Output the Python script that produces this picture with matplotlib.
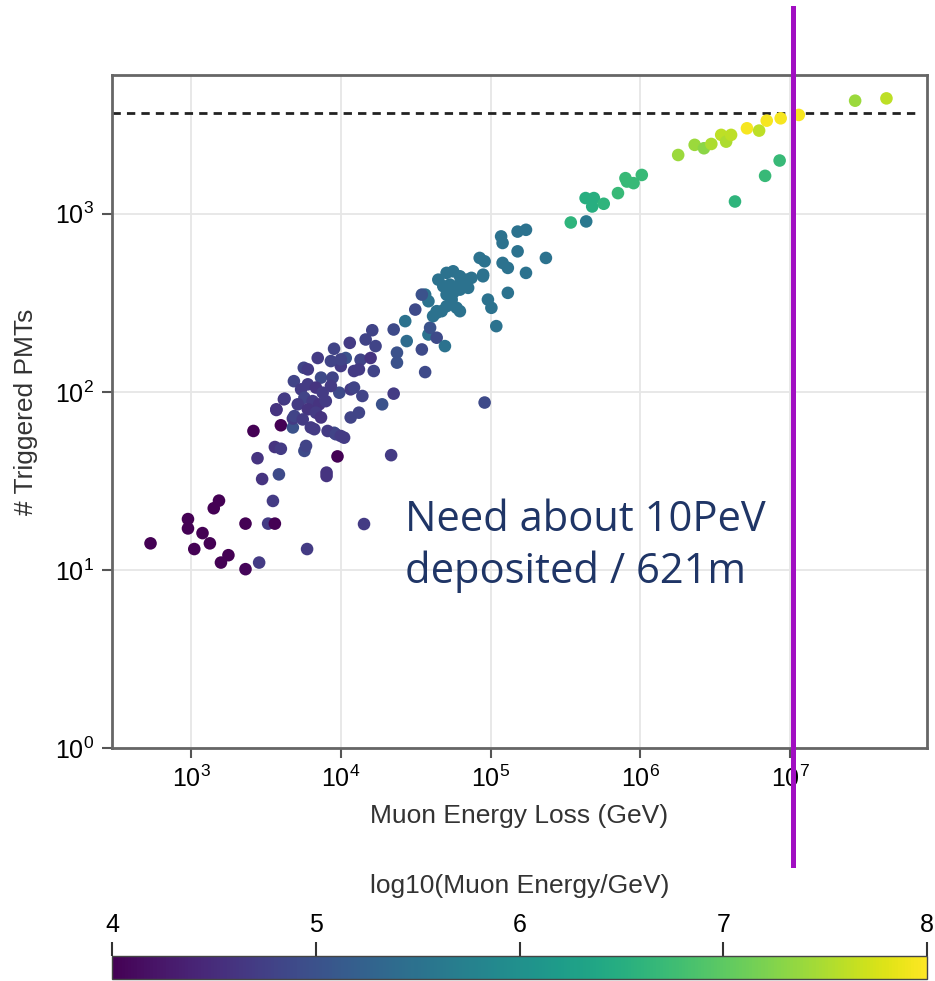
import matplotlib
matplotlib.use("Agg")
import matplotlib.pyplot as plt

plt.rcParams['font.family'] = ['Liberation Sans', 'DejaVu Sans']

# muon energy loss (GeV), triggered PMTs, log10(muon energy / GeV)
eloss = [537, 955, 955, 1194, 1052, 1337, 1778, 1585, 1538, 1419,
         2312, 2312, 2851, 3273, 3631, 3524, 2985, 3864, 2780, 2612,
         3981, 5957, 3631, 3981, 5715, 8035, 8035, 4786, 9506, 21680,
         14290, 18880, 22540, 11640, 13210, 10520, 9036, 6653, 4786, 3715,
         4169,
         16220, 14660, 17060, 11480, 9016, 7015, 5662, 6026, 4864, 4217,
         3715, 7379, 8810, 9772, 11640, 13930, 12250, 10790, 13550, 16600,
         13210, 10000, 8590, 23710, 23710, 5433, 6026, 6823, 7568, 5715,
         6486, 7178, 7943, 5164, 6026, 6823, 4898, 5572, 7379, 6310,
         8166, 9268, 5861, 8590, 15810, 10000, 12250, 10000,
         31410, 26920, 22540, 27540, 38460, 39450, 43650, 49550, 34750, 36560,
         91200, 36560, 38460, 34750, 41300, 43650,
         44770, 50820, 56230, 62370, 69020, 74470, 48310, 53460, 59290, 65610,
         70790, 50820, 56230, 62370, 54950, 59290, 62370, 50820, 43650, 47100,
         88920, 91200, 84530, 117500, 120200, 151400, 172200, 151400, 120200, 130300,
         172200, 233900, 95940, 101200, 130300, 109100, 89130,
         342800, 434500, 430500, 488800, 476400, 568900, 707900, 794300, 899500, 1.021e6,
         812800,
         1.786e6, 2.301e6, 2.655e6, 2.972e6, 3.459e6, 3.733e6, 4.027e6, 5.140e6, 6.194e6, 6.966e6,
         8.630e6, 1.140e7, 2.710e7, 4.385e7, 4.276e6, 6.792e6, 8.492e6]

n_pmt = [14.1, 19.3, 17.1, 16.1, 13.1, 14.1, 12.1, 11.0, 24.5, 22.2,
         18.2, 10.1, 11.0, 18.2, 18.2, 24.4, 32.4, 34.4, 42.4, 60.3,
         64.9, 13.1, 49.0, 47.9, 46.6, 35.2, 33.7, 63.1, 43.4, 44.1,
         18.1, 85.1, 97.7, 71.8, 76.4, 55.3, 58.9, 61.7, 70.8, 79.1,
         90.8,
         221.8, 196.8, 180.7, 188.4, 174.6, 154.9, 136.5, 133.7, 114.8, 91.6,
         79.8, 120.2, 120.2, 98.9, 103.3, 94.8, 130.9, 154.9, 151.4, 130.9,
         133.7, 139.6, 148.9, 166.0, 145.9, 103.3, 110.2, 105.7, 98.9, 92.7,
         88.7, 85.1, 88.7, 85.1, 79.8, 76.4, 73.1, 70.0, 71.8, 63.1,
         60.3, 57.8, 49.7, 107.9, 154.9, 152.1, 105.7, 56.5,
         289.7, 249.5, 223.9, 192.8, 209.9, 229.1, 201.4, 180.7, 173.0, 129.1,
         87.1, 351.6, 322.8, 351.6, 266.1, 283.8,
         426.6, 465.6, 475.3, 445.6, 426.6, 436.5, 391.7, 399.9, 391.7, 409.3,
         383.7, 351.6, 359.7, 375.0, 329.6, 296.5, 283.8, 302.7, 278.0, 283.8,
         445.6, 540.8, 564.9, 746.4, 685.5, 794.3, 812.8, 615.2, 529.7, 496.6,
         465.6, 564.9, 329.6, 296.5, 359.7, 233.9, 455.0,
         893.3, 905.7, 1225, 1225, 1099, 1138, 1306, 1585, 1486, 1652,
         1517,
         2138, 2438, 2333, 2466, 2773, 2541, 2773, 3020, 2931, 3334,
         3436, 3589, 4315, 4446, 1172, 1633, 1991]

log_energy = [4.0, 4.0, 4.0, 4.0, 4.0, 4.0, 4.0, 4.0, 4.0, 4.0,
              4.0, 4.05, 4.7, 4.7, 4.0, 4.7, 4.6, 4.9, 4.6, 4.0,
              4.0, 4.7, 4.6, 4.7, 4.9, 4.6, 4.6, 5.0, 4.0, 4.7,
              4.7, 5.0, 4.7, 4.8, 4.8, 4.7, 4.9, 4.7, 4.7, 4.6,
              4.6,
              4.8, 4.8, 4.8, 4.7, 4.8, 4.7, 4.8, 4.7, 4.8, 4.7,
              4.6, 4.9, 4.8, 4.9, 4.7, 4.8, 4.7, 5.0, 4.8, 4.8,
              4.7, 4.7, 4.8, 5.0, 5.0, 4.7, 4.7, 4.6, 4.7, 4.8,
              4.7, 4.6, 4.7, 4.7, 4.6, 4.7, 4.8, 4.7, 4.6, 4.7,
              4.7, 4.8, 4.8, 4.7, 4.6, 4.8, 4.8, 4.7,
              4.9, 5.5, 4.9, 5.4, 5.5, 5.0, 4.9, 5.5, 4.9, 4.9,
              4.9, 5.5, 5.5, 5.0, 5.5, 5.5,
              5.5, 5.5, 5.5, 5.5, 5.5, 5.5, 5.5, 5.5, 5.5, 5.5,
              5.5, 5.5, 5.5, 5.5, 5.5, 5.5, 5.5, 5.5, 5.5, 5.5,
              5.5, 5.5, 5.5, 5.5, 5.5, 5.5, 5.5, 5.5, 5.5, 5.5,
              5.5, 5.5, 5.5, 5.5, 5.5, 5.5, 5.5,
              6.6, 5.6, 6.5, 6.5, 6.5, 6.6, 6.7, 6.7, 6.7, 6.7,
              6.7,
              7.4, 7.4, 7.3, 7.5, 7.6, 7.5, 7.6, 7.95, 7.6, 7.95,
              7.95, 7.95, 7.4, 7.6, 6.6, 6.7, 6.7]

pmt_limit = 3690
cut_energy = 1.05e7

fig = plt.figure(figsize=(9.35, 9.81), dpi=100)
ax = fig.add_axes([0.1198, 0.2375, 0.8717, 0.686])

sc = ax.scatter(eloss, n_pmt, c=log_energy, cmap='viridis', vmin=4, vmax=8,
                s=82, linewidths=0, zorder=3)
ax.set_xscale('log')
ax.set_yscale('log')
ax.set_xlim(10**2.473, 10**7.913)
ax.set_ylim(1, 10**3.779)
ax.set_xticks([1e3, 1e4, 1e5, 1e6, 1e7])
ax.set_yticks([1e0, 1e1, 1e2, 1e3])
ax.minorticks_off()

ax.grid(True, color='#e6e6e6', linewidth=1.3, zorder=0)
for sp in ax.spines.values():
    sp.set_color('#666666')
    sp.set_linewidth(2)
ax.tick_params(length=7, width=1.5, color='#555555', labelsize=18, pad=6)

ax.set_xlabel('Muon Energy Loss (GeV)', fontsize=19, color='#333333', labelpad=8)
ax.set_ylabel('# Triggered PMTs', fontsize=19, color='#333333', labelpad=12)

# saturation limit and 10 PeV cut
ax.axhline(pmt_limit, xmin=0, xmax=0.99, color='#222222', linestyle=(0, (3, 2.2)),
           linewidth=2, zorder=2)
ax.axvline(cut_energy, ymin=-0.174, ymax=1.1, color='#a10fc2', linewidth=3.6,
           clip_on=False, zorder=5)

ax.text(0.3595, 0.322, 'Need about 10PeV', transform=ax.transAxes,
        fontsize=30, color='#1f3566', family='Open Sans', va='baseline')
ax.text(0.3595, 0.245, 'deposited / 621m', transform=ax.transAxes,
        fontsize=30, color='#1f3566', family='Open Sans', va='baseline')

cax = fig.add_axes([0.1198, 0.002, 0.8717, 0.0235])
cb = fig.colorbar(sc, cax=cax, orientation='horizontal')
cb.set_ticks([4, 5, 6, 7, 8])
cax.xaxis.set_ticks_position('top')
cax.xaxis.set_label_position('top')
cax.tick_params(length=10, width=1.5, color='#333333', labelsize=18, pad=4)
cb.set_label('log10(Muon Energy/GeV)', fontsize=19, color='#333333', labelpad=14)
cb.outline.set_linewidth(1)
cb.outline.set_edgecolor('#444444')

fig.savefig('out.png', dpi=100)
